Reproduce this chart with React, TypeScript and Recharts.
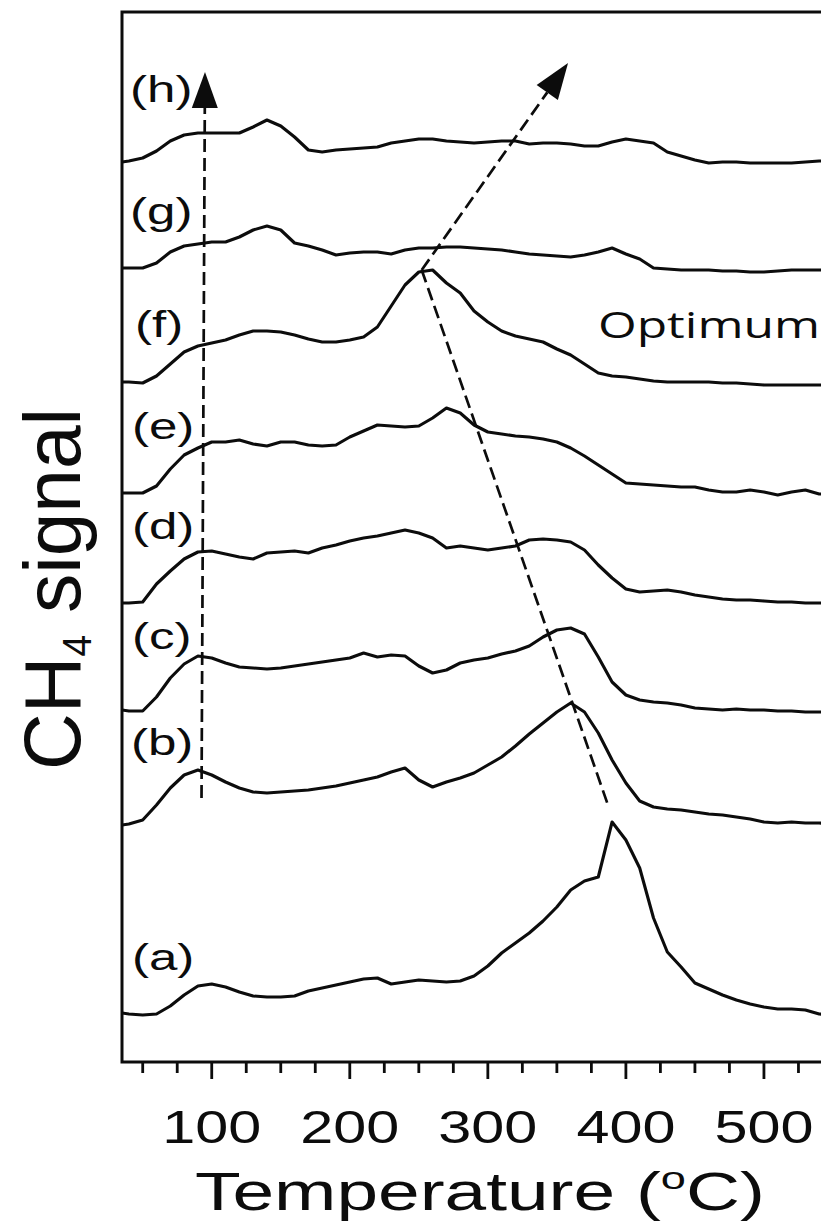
import React from "react";
import { LineChart, Line, XAxis, YAxis, ReferenceArea, ReferenceLine, ReferenceDot } from "recharts";

// Temperature grid (°C) shared by all traces
const temps = [35, 40, 50, 60, 70, 80, 90, 100, 110, 120, 130, 140, 150, 160, 170, 180, 190, 200, 210, 220, 230, 240, 250, 260, 270, 280, 290, 300, 310, 320, 330, 340, 350, 360, 370, 380, 390, 400, 410, 420, 430, 440, 450, 460, 470, 480, 490, 500, 510, 520, 530, 540, 550];

// CH4 signal, stacked traces (a.u., offset included)
const curveA = [49, 48, 47, 48, 56, 67, 76, 78, 75, 70, 66, 65, 65, 66, 71, 74, 77, 80, 83, 84, 78, 80, 82, 81, 80, 81, 86, 96, 109, 119, 129, 141, 155, 172, 181, 185, 240, 222, 194, 144, 110, 95, 79, 73, 67, 62, 58, 55, 53, 53, 52, 48, 47];
const curveB = [237, 238, 242, 257, 274, 287, 292, 287, 280, 274, 270, 269, 270, 271, 272, 274, 276, 279, 282, 285, 290, 294, 282, 275, 280, 284, 289, 297, 305, 316, 328, 339, 350, 359, 350, 329, 302, 279, 261, 255, 253, 252, 250, 248, 247, 245, 243, 240, 239, 240, 239, 239, 238];
const curveC = [352, 351, 351, 365, 384, 398, 406, 404, 399, 395, 394, 393, 394, 396, 398, 400, 402, 404, 409, 405, 407, 406, 396, 389, 392, 399, 402, 404, 408, 411, 416, 425, 432, 434, 428, 405, 380, 367, 362, 360, 359, 357, 354, 353, 352, 353, 352, 352, 351, 351, 350, 350, 350];
const curveD = [459, 459, 460, 478, 491, 503, 510, 511, 508, 505, 503, 509, 510, 511, 509, 514, 517, 521, 524, 526, 529, 532, 529, 524, 514, 516, 514, 512, 514, 516, 522, 523, 522, 520, 512, 497, 484, 473, 470, 471, 472, 470, 467, 465, 463, 462, 462, 461, 460, 460, 459, 459, 459];
const curveE = [569, 569, 569, 576, 593, 607, 614, 620, 620, 622, 618, 616, 620, 620, 617, 616, 617, 625, 631, 637, 636, 635, 636, 644, 654, 649, 637, 630, 628, 626, 625, 623, 620, 614, 606, 597, 588, 579, 578, 577, 576, 575, 575, 572, 570, 570, 572, 570, 567, 570, 572, 568, 568];
const curveF = [680, 680, 679, 686, 698, 710, 716, 719, 722, 727, 731, 731, 730, 727, 723, 720, 720, 722, 725, 735, 756, 777, 790, 792, 779, 769, 751, 740, 731, 726, 723, 720, 713, 707, 698, 689, 686, 685, 683, 681, 680, 680, 680, 680, 679, 679, 678, 677, 677, 677, 677, 677, 677];
const curveG = [794, 794, 794, 799, 810, 816, 818, 820, 820, 825, 832, 836, 832, 819, 816, 812, 807, 809, 810, 810, 808, 812, 814, 814, 815, 815, 814, 813, 812, 810, 808, 807, 806, 805, 807, 810, 814, 808, 803, 794, 793, 792, 792, 792, 791, 791, 790, 790, 791, 792, 792, 792, 792];
const curveH = [900, 901, 904, 911, 921, 927, 929, 929, 929, 929, 935, 942, 936, 925, 912, 910, 912, 913, 914, 915, 919, 921, 923, 923, 921, 920, 919, 920, 921, 921, 918, 919, 919, 918, 916, 916, 920, 923, 921, 919, 910, 906, 902, 899, 900, 900, 899, 899, 899, 899, 900, 901, 901];

const seriesKeys = ["a", "b", "c", "d", "e", "f", "g", "h"];
const seriesValues = [curveA, curveB, curveC, curveD, curveE, curveF, curveG, curveH];
const seriesTags = ["(a)", "(b)", "(c)", "(d)", "(e)", "(f)", "(g)", "(h)"];

const xTicks = [50, 75, 100, 125, 150, 175, 200, 225, 250, 275, 300, 325, 350, 375, 400, 425, 450, 475, 500, 525, 550, 575];

const data = temps.map((t, i) => {
  const row: Record<string, number> = { t };
  seriesKeys.forEach((k, j) => {
    row[k] = seriesValues[j][i];
  });
  return row;
});

// where each trace tag sits (left edge / baseline, in axis units)
const TAG_POS = [
  { t: 42.2, v: 92 },
  { t: 41.5, v: 307 },
  { t: 42.2, v: 413 },
  { t: 42.2, v: 523 },
  { t: 42.2, v: 623 },
  { t: 44.4, v: 725 },
  { t: 40.8, v: 838 },
  { t: 40.8, v: 960 },
];

const FONT = '"Liberation Sans", Arial, Helvetica, sans-serif';
const INK = "#0c0c0c";

const Tag = ({ x, y, text }: { x: number; y: number; text: string }) => (
  <text
    transform={`translate(${x},${y}) scale(1.38,1)`}
    fontFamily={FONT}
    fontSize={37}
    fill={INK}
  >
    {text}
  </text>
);

const TempTick = (props: any) => {
  const { x, y, payload } = props;
  const major = payload.value % 100 === 0;
  return (
    <g>
      <line x1={x} y1={y} x2={x} y2={y + (major ? 17 : 11)} stroke={INK} strokeWidth={2.8} />
      {major && (
        <text
          x={x}
          y={y + 81}
          textAnchor="middle"
          fontFamily={FONT}
          fontSize={46}
          textLength={99}
          lengthAdjust="spacingAndGlyphs"
          fill={INK}
        >
          {payload.value}
        </text>
      )}
    </g>
  );
};

const XTitle = (props: any) => {
  const vb = props.viewBox;
  return (
    <text
      x={vb.x + 358}
      y={vb.y + 148}
      textAnchor="middle"
      fontFamily={FONT}
      fontSize={53}
      textLength={570}
      lengthAdjust="spacingAndGlyphs"
      fill={INK}
    >
      Temperature (<tspan fontSize={32} dy={-21}>o</tspan><tspan dy={21}>C)</tspan>
    </text>
  );
};

const YTitle = (props: any) => {
  const vb = props.viewBox;
  const cx = vb.x + vb.width - 42;
  const cy = vb.y + 577;
  return (
    <text
      transform={`translate(${cx},${cy}) rotate(-90)`}
      textAnchor="middle"
      fontFamily={FONT}
      fontSize={80}
      textLength={362}
      lengthAdjust="spacingAndGlyphs"
      fill={INK}
    >
      CH<tspan fontSize={40} dy={11}>4</tspan><tspan dy={-11}> signal</tspan>
    </text>
  );
};

// dashed guide with an optional filled head at the second point
const dashedGuide = (head: boolean) => (p: any) => {
  const { x1, y1, x2, y2 } = p;
  const dx = x2 - x1;
  const dy = y2 - y1;
  const len = Math.hypot(dx, dy) || 1;
  const ux = dx / len;
  const uy = dy / len;
  const hl = head ? 36 : 0;
  const hw = 13;
  const bx = x2 - ux * hl;
  const by = y2 - uy * hl;
  return (
    <g>
      <line x1={x1} y1={y1} x2={bx} y2={by} stroke={INK} strokeWidth={2.7} strokeDasharray="13 6" />
      {head && (
        <polygon
          points={`${x2},${y2} ${bx - uy * hw},${by + ux * hw} ${bx + uy * hw},${by - ux * hw}`}
          fill={INK}
        />
      )}
    </g>
  );
};

export default function App() {
  return (
    <div style={{ position: "absolute", left: 0, top: 0, width: 821, height: 1224, overflow: "hidden", background: "#fff" }}>
      <LineChart width={960} height={1224} data={data} margin={{ top: 12, right: 58, bottom: 0, left: 121 }}>
        <XAxis
          dataKey="t"
          type="number"
          domain={[35, 600]}
          ticks={xTicks}
          interval={0}
          axisLine={false}
          tickLine={false}
          tickSize={0}
          tickMargin={0}
          height={162}
          tick={<TempTick />}
          label={{ content: <XTitle /> }}
          allowDataOverflow
        />
        <YAxis
          type="number"
          domain={[0, 1050]}
          width={1}
          tick={false}
          axisLine={false}
          tickLine={false}
          label={{ content: <YTitle /> }}
          allowDataOverflow
        />
        <ReferenceArea
          x1={35}
          x2={600}
          y1={0}
          y2={1050}
          fill="none"
          stroke={INK}
          strokeWidth={3}
          ifOverflow="visible"
        />
        {seriesKeys.map((k) => (
          <Line
            key={k}
            dataKey={k}
            type="linear"
            stroke={INK}
            strokeWidth={3.1}
            strokeLinejoin="round"
            dot={false}
            activeDot={false}
            isAnimationActive={false}
          />
        ))}
        <ReferenceLine
          segment={[{ x: 92.6, y: 264 }, { x: 95.1, y: 990 }]}
          shape={dashedGuide(true)}
          ifOverflow="visible"
        />
        <ReferenceLine
          segment={[{ x: 252.1, y: 792 }, { x: 358.1, y: 999 }]}
          shape={dashedGuide(true)}
          ifOverflow="visible"
        />
        <ReferenceLine
          segment={[{ x: 252.1, y: 792 }, { x: 387.0, y: 257 }]}
          shape={dashedGuide(false)}
          ifOverflow="visible"
        />
        {seriesTags.map((tag, i) => (
          <ReferenceDot
            key={tag}
            x={TAG_POS[i].t}
            y={TAG_POS[i].v}
            ifOverflow="visible"
            shape={(p: any) => <Tag x={p.cx} y={p.cy} text={tag} />}
          />
        ))}
        <ReferenceDot
          x={379.8}
          y={724}
          ifOverflow="visible"
          shape={(p: any) => (
            <text
              x={p.cx}
              y={p.cy}
              fontFamily='"Open Sans", "Noto Sans", sans-serif'
              fontSize={36}
              textLength={222}
              lengthAdjust="spacingAndGlyphs"
              fill={INK}
            >
              Optimum
            </text>
          )}
        />
      </LineChart>
    </div>
  );
}
